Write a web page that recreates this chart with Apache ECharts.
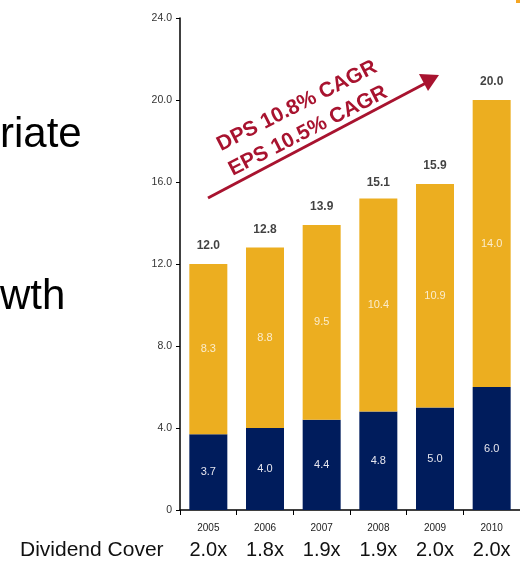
<!DOCTYPE html>
<html>
<head>
<meta charset="utf-8">
<style>
  html, body { margin: 0; padding: 0; background: #fff; }
  #chart { width: 520px; height: 561px; }
</style>
<script src="https://cdn.jsdelivr.net/npm/echarts@6/dist/echarts.min.js"></script>
</head>
<body>
<div id="chart"></div>
<script>
// years and values
const years = ['2005', '2006', '2007', '2008', '2009', '2010'];
const dps = [3.7, 4.0, 4.4, 4.8, 5.0, 6.0];
const rest = [8.3, 8.8, 9.5, 10.4, 10.9, 14.0];
const totals = [12.0, 12.8, 13.9, 15.1, 15.9, 20.0];
const cover = ['2.0x', '1.8x', '1.9x', '1.9x', '2.0x', '2.0x'];

const font = '"Liberation Sans", Arial, sans-serif';
const orange = '#ecae20';
const navy = '#001c5c';
const red = '#a8132f';

let myChart = echarts.init(document.getElementById('chart'));

let option = {
  animation: false,
  textStyle: { fontFamily: font },
  grid: { left: 180, top: 18, bottom: 51, width: 341 },
  xAxis: [{
    type: 'category',
    data: years,
    axisLine: { lineStyle: { color: '#000', width: 1.5 } },
    axisTick: { show: true, length: 5, lineStyle: { color: '#000' } },
    axisLabel: { color: '#222', fontSize: 10, margin: 13, fontFamily: font }
  }, {
    type: 'category',
    data: cover,
    position: 'bottom',
    offset: 30,
    axisLine: { show: false },
    axisTick: { show: false },
    axisLabel: { color: '#111', fontSize: 20, margin: 0, fontFamily: font }
  }],
  yAxis: {
    type: 'value',
    min: 0,
    max: 24,
    interval: 4,
    axisLine: { show: true, lineStyle: { color: '#000', width: 1.5 } },
    axisTick: { show: true, length: 4, lineStyle: { color: '#000' } },
    splitLine: { show: false },
    axisLabel: {
      color: '#333', fontSize: 10.5, margin: 8, fontFamily: font,
      formatter(v) { return v === 0 ? '0' : v.toFixed(1); }
    }
  },
  series: [{
    type: 'bar',
    stack: 'a',
    data: dps,
    barWidth: 38,
    itemStyle: { color: navy },
    label: {
      show: true, position: 'inside', color: '#e6e6ee', fontSize: 11, fontFamily: font,
      formatter(p) { return p.value.toFixed(1); }
    }
  }, {
    type: 'bar',
    stack: 'a',
    data: rest,
    barWidth: 38,
    itemStyle: { color: orange },
    label: {
      show: true, position: 'inside', color: '#fbeccc', fontSize: 11, fontFamily: font,
      formatter(p) { return p.value.toFixed(1); }
    }
  }, {
    type: 'scatter',
    data: totals,
    symbolSize: 0,
    silent: true,
    label: {
      show: true, position: 'top', distance: 12, color: '#111', fontSize: 12,
      fontWeight: 'bold', fontFamily: font,
      formatter(p) { return p.value.toFixed(1); }
    }
  }],
  graphic: [{
    type: 'text', left: 0, top: 114,
    style: { text: 'riate', fill: '#000', font: '42px ' + font }
  }, {
    type: 'text', left: 0, top: 276,
    style: { text: 'wth', fill: '#000', font: '42px ' + font }
  }, {
    type: 'text', left: 20, top: 540,
    style: { text: 'Dividend Cover', fill: '#111', font: '21px ' + font }
  }, {
    type: 'rect', shape: { x: 516, y: 0, width: 4, height: 3 },
    style: { fill: '#f5a623' }
  }, {
    type: 'line', shape: { x1: 208, y1: 198, x2: 426, y2: 83 },
    style: { stroke: red, lineWidth: 3 }
  }, {
    type: 'polygon', shape: { points: [[439, 75], [419, 74], [428, 91]] },
    style: { fill: red }
  }, {
    type: 'text', x: 297, y: 106, rotation: 27 * Math.PI / 180,
    style: { text: 'DPS 10.8% CAGR', fill: red, font: 'bold 21px ' + font, align: 'center', verticalAlign: 'middle' }
  }, {
    type: 'text', x: 308, y: 131, rotation: 27 * Math.PI / 180,
    style: { text: 'EPS 10.5% CAGR', fill: red, font: 'bold 21px ' + font, align: 'center', verticalAlign: 'middle' }
  }]
};

myChart.setOption(option, true);

window.addEventListener('resize', () => {
  myChart.resize();
});
</script>
</body>
</html>
